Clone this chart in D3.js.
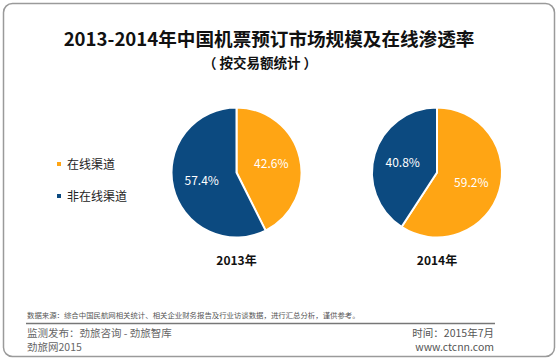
<!DOCTYPE html>
<html><head><meta charset="utf-8">
<script src="https://cdn.jsdelivr.net/npm/d3@7"></script>
<style>
html,body{margin:0;padding:0;background:#fff;}
svg{display:block;font-family:"Noto Sans CJK SC","Noto Sans",sans-serif;}
</style></head>
<body>
<svg id="c" width="558" height="362"></svg>
<script>
const title = "2013-2014年中国机票预订市场规模及在线渗透率";
const subtitle = "（ 按交易额统计 ）";
const categories = ["在线渠道", "非在线渠道"];
const years = ["2013年", "2014年"];
const share2013 = [42.6, 57.4];
const share2014 = [59.2, 40.8];
const colors = ["#FFA514", "#0C4A80"];
const sourceNote = "数据来源：综合中国民航网相关统计、相关企业财务报告及行业访谈数据，进行汇总分析，谨供参考。";
const publisher = ["监测发布：劲旅咨询 - 劲旅智库", "劲旅网2015"];
const dateInfo = ["时间：2015年7月", "www.ctcnn.com"];

const svg = d3.select("#c");
svg.append("rect").attr("x",3.5).attr("y",3.5).attr("width",551).attr("height",353)
  .attr("rx",9).attr("fill","#fff").attr("stroke","#9a9a9a").attr("stroke-width",1.5);

svg.append("text").attr("x",269).attr("y",45.5).attr("text-anchor","middle")
  .attr("font-size",18.6).attr("font-weight","bold").attr("fill","#111").text(title);
svg.append("text").attr("x",260).attr("y",68).attr("text-anchor","middle")
  .attr("font-size",13.5).attr("font-weight","bold").attr("fill","#111").text(subtitle);

// legend
const leg = svg.append("g");
categories.forEach((c,i)=>{
  const y = 164 + i*32;
  leg.append("rect").attr("x",57).attr("y",y-2).attr("width",4).attr("height",4).attr("fill",colors[i]);
  leg.append("text").attr("x",67).attr("y",y+4.5).attr("font-size",12).attr("fill","#222").text(c);
});

const pies = [share2013, share2014];
const centersX = d3.scalePoint().domain(years).range([236.5, 437]);
const r = 65;
const pie = d3.pie().sort(null).value(d=>d);
const arc = d3.arc().innerRadius(0).outerRadius(r);
const labelArc = d3.arc().innerRadius(r*0.55).outerRadius(r*0.55);

pies.forEach((vals,pi)=>{
  const g = svg.append("g").attr("transform",`translate(${centersX(years[pi])},172.5)`);
  const arcs = pie(vals);
  g.selectAll("path").data(arcs).join("path")
    .attr("d",arc).attr("fill",(d,i)=>colors[i])
    .attr("stroke","#fff").attr("stroke-width",2).attr("stroke-linejoin","round");
  g.selectAll("text.v").data(arcs).join("text").attr("class","v")
    .attr("transform",d=>`translate(${labelArc.centroid(d)})`)
    .attr("text-anchor","middle").attr("dy","0.35em")
    .attr("font-size",12).attr("fill","#fff").text(d=>d.data.toFixed(1)+"%");
  svg.append("text").attr("x",centersX(years[pi])).attr("y",265)
    .attr("text-anchor","middle").attr("font-size",12).attr("font-weight","bold")
    .attr("fill","#111").text(years[pi]);
});

// footer
svg.append("text").attr("x",27).attr("y",317.5).attr("font-size",7.4).attr("fill","#555").text(sourceNote);
svg.append("line").attr("x1",26).attr("x2",495).attr("y1",323.5).attr("y2",323.5)
  .attr("stroke","#777").attr("stroke-width",1.3);
publisher.forEach((t,i)=>{
  svg.append("text").attr("x",27).attr("y",337+i*14).attr("font-size",10.5).attr("fill","#666").text(t);
});
dateInfo.forEach((t,i)=>{
  svg.append("text").attr("x",494).attr("y",337+i*14).attr("text-anchor","end").attr("font-size",10.5).attr("fill","#555").text(t);
});
</script>
</body></html>
